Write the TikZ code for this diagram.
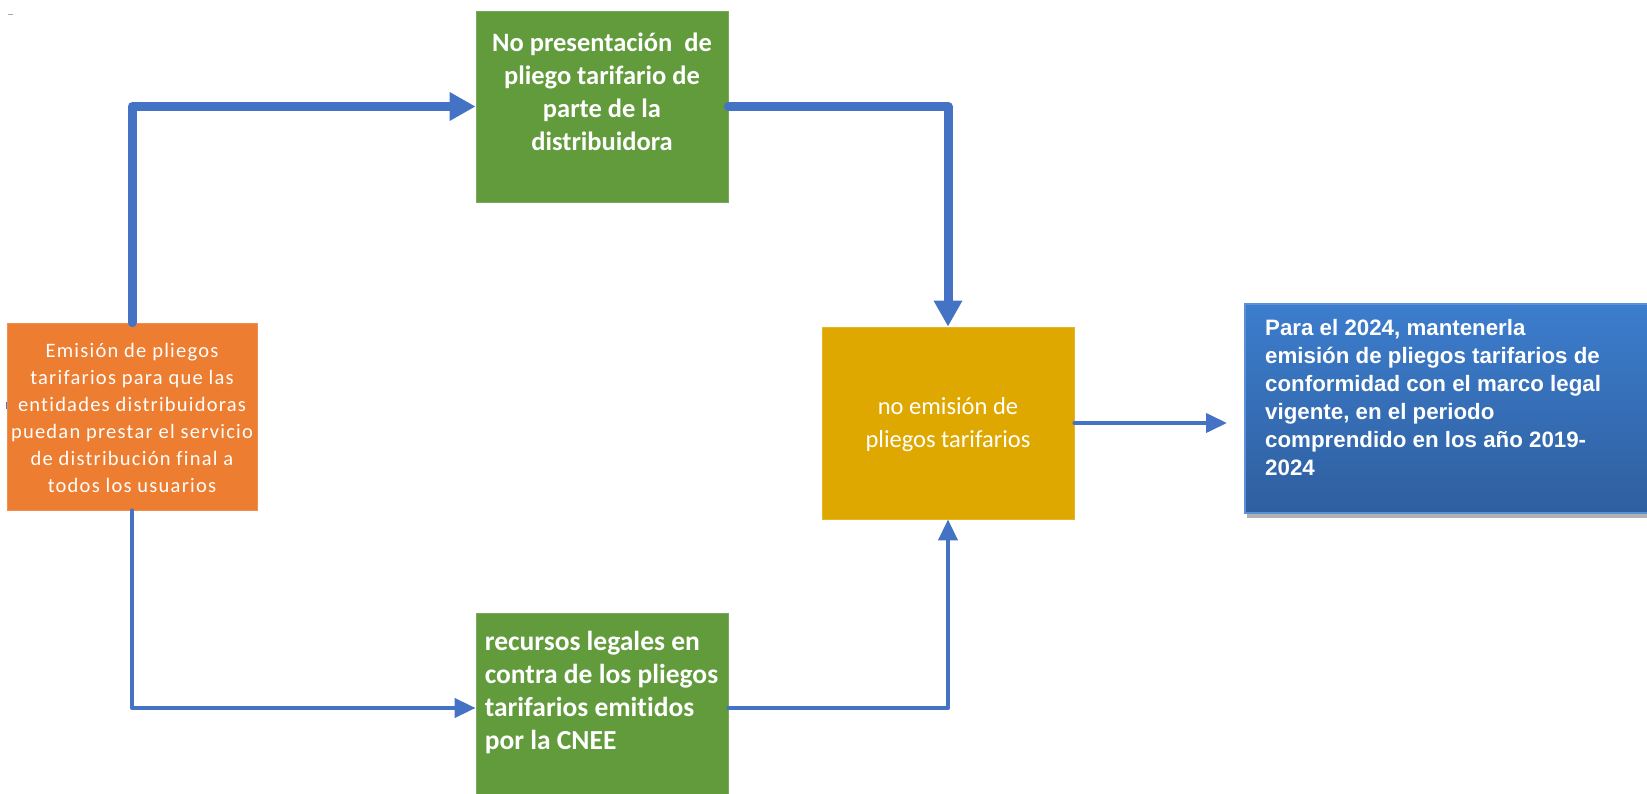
\documentclass[tikz,border=0pt]{standalone}
\usepackage{fontspec}
\setmainfont[Ligatures=NoCommon]{Carlito}
\newfontfamily\arialfont{Liberation Sans}
\newfontfamily\spacedfont[LetterSpace=6,Ligatures=NoCommon]{Carlito}
\usetikzlibrary{arrows.meta,shadows,calc}
\definecolor{cgreen}{HTML}{619B3C}
\definecolor{corange}{HTML}{ED7D31}
\definecolor{cyellow}{HTML}{DFA800}
\definecolor{cline}{HTML}{4472C4}
\definecolor{cbluetop}{HTML}{3C7DCD}
\definecolor{cbluebot}{HTML}{2F5F9F}
\definecolor{cblueedge}{HTML}{5B8FD6}
\tikzset{
  box/.style={rectangle, inner sep=0pt, draw=#1!85!white, line width=0.8pt, fill=#1},
  thickarrow/.style={draw=cline, line width=9pt, line join=round, line cap=round,
    -{Triangle[length=26pt,width=27pt]}},
  thinarrow/.style={draw=cline, line width=4pt, line join=round, line cap=round,
    -{Triangle[length=21pt,width=19pt]}},
  boxtext/.style={text=white, inner sep=0pt},
}
\begin{document}
\begin{tikzpicture}[x=1pt,y=-1pt]
\useasboundingbox (0,0) rectangle (1647,794);
% small marks
\fill[gray!70] (8,14.5) rectangle (13,15.5);
\fill[cline] (6,402) rectangle (10,409);
% boxes
\node[box=corange, minimum width=250pt, minimum height=187pt] (orange) at (132,416.5) {};
\node[boxtext, align=center, font=\spacedfont\fontsize{20.5}{27}\selectfont] (orangetxt) at (132,418)
  {Emisión de pliegos\\tarifarios para que las\\entidades distribuidoras\\puedan prestar el servicio\\de distribución final a\\todos los usuarios};
\node[box=cgreen, minimum width=252pt, minimum height=191pt] (gtop) at (602,106.5) {};
\node[boxtext, align=center, anchor=north, font=\bfseries\fontsize{26.5}{33}\selectfont] (gtoptxt)
  at ($(gtop.north)+(0,22)$) {No presentación\ \ de\\pliego tarifario de\\parte de la\\distribuidora};
\node[box=cyellow, minimum width=252pt, minimum height=192pt] (yellow) at (948,423) {};
\node[boxtext, align=center, font=\fontsize{24.5}{33}\selectfont] (yellowtxt) at (948,425)
  {no emisión de\\pliegos tarifarios};
\node[box=cgreen, minimum width=252pt, minimum height=190pt] (gbot) at (602,708) {};
\node[boxtext, align=left, anchor=north west, font=\bfseries\fontsize{27.5}{33}\selectfont] (gbottxt)
  at ($(gbot.north west)+(9,18)$) {recursos legales en\\contra de los pliegos\\tarifarios emitidos\\por la CNEE};
\node[rectangle, inner sep=0pt, minimum width=405pt, minimum height=209pt,
  top color=cbluetop, bottom color=cbluebot, draw=cblueedge, line width=1.2pt,
  drop shadow={shadow xshift=2pt, shadow yshift=-5pt, opacity=0.3, fill=black}] (blue) at (1447.5,408.5) {};
\node[boxtext, align=left, anchor=north west, font=\arialfont\bfseries\fontsize{22.3}{28}\selectfont] (bluetxt)
  at (1265,319) {Para el 2024, mantenerla\\emisión de pliegos tarifarios de\\conformidad con el marco legal\\vigente, en el periodo\\comprendido en los año 2019-\\2024};
% connectors
\coordinate (bluein) at (1227,423);
\draw[thickarrow] (orange.north) |- (gtop.west);
\draw[thickarrow] (gtop.east) -| (yellow.north);
\draw[thinarrow] (orange.south) |- (gbot.west);
\draw[thinarrow] (gbot.east) -| (yellow.south);
\draw[thinarrow] (yellow.east) -- (bluein);
\end{tikzpicture}
\end{document}
